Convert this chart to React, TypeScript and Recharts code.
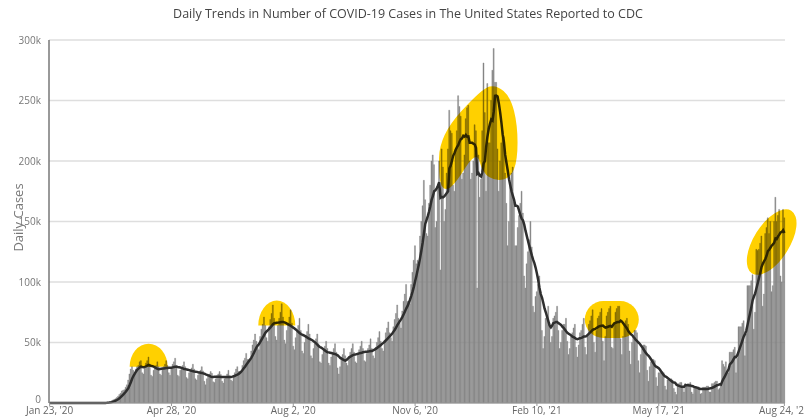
import { ComposedChart, Bar, Line, XAxis, YAxis, CartesianGrid, ReferenceDot } from 'recharts'

// daily reported cases, thousands. Jan 23 2020 (Thu) .. Dec 31 2020, one row per week (Sun..Sat)
const cases2020: number[] = [
  0, 0, 0,
  0, 0, 0, 0, 0, 0, 0,
  0, 0, 0, 0, 0, 0, 0,
  0, 0, 0, 0, 0, 0, 0,
  0, 0, 0, 0, 0, 0, 0,
  0, 0, 0, 0, 0, 0, 0,
  0.03, 0.04, 0.06, 0.08, 0.1, 0.15, 0.2,
  0.4, 0.6, 0.9, 1.2, 1.8, 2.5, 3,
  3.5, 4.5, 5.5, 7, 8, 10, 10.5,
  11, 13, 15, 19, 24, 28, 30,
  27, 25, 28, 30, 31, 34, 35,
  25, 24, 30, 33, 35, 38, 32,
  23, 22, 27, 29, 31, 34, 30,
  24, 23, 28, 30, 32, 35, 31,
  25, 23, 28, 32, 34, 37, 31,
  23, 22, 27, 29, 31, 34, 30,
  21, 20, 25, 27, 29, 32, 28,
  20, 19, 23, 26, 27, 30, 26.5,
  18, 15, 20, 23, 24, 26, 24.5,
  17.5, 17, 20, 22.5, 24, 26, 23.5,
  18, 16.5, 20, 22, 24, 27, 22.5,
  19, 18, 22, 25, 28, 30, 26,
  26, 25, 31, 35, 37, 41, 36,
  36, 35, 43, 48, 52, 57, 51,
  46, 44, 55, 61, 65, 71, 64,
  54, 51, 63, 69, 74, 81, 70,
  55, 52, 64, 70, 75, 82, 71,
  52, 49, 60, 66, 71, 77, 66,
  47, 44, 54, 60, 64, 70, 60,
  43, 41, 50, 56, 59, 65, 57,
  39, 37, 45, 49, 53, 57, 49,
  34, 33, 40, 44, 47, 51, 45,
  33, 31, 38, 42, 45, 49, 42,
  29, 24, 30, 38, 40, 45, 39,
  33, 31, 38, 42, 45, 49, 42,
  34, 33, 40, 44, 47, 51, 45,
  35, 34, 41, 45, 48, 53, 45,
  39, 37, 46, 50, 54, 59, 51,
  45, 43, 52, 58, 62, 67, 58,
  54, 51, 63, 69, 74, 81, 70,
  66, 62, 76, 84, 90, 98, 84,
  84, 82, 98, 108, 118, 130, 115,
  118, 115, 138, 150, 163, 184, 168,
  140, 138, 165, 180, 200, 205, 197,
  145, 150, 180, 200, 110, 210, 195,
  150, 160, 190, 210, 242, 225, 223,
  180, 175, 210, 225, 254, 245, 237,
  185, 190, 205, 235, 244, 246, 200,
  185, 190, 200, 230, 225, 95, 205,
  170, 185, 225, 281, 240,
]

// Jan 1 2021 (Fri) .. Aug 24 2021
const cases2021: number[] = [
  175, 264,
  215, 215, 250, 275, 293, 265, 265,
  210, 175, 200, 215, 225, 220, 190,
  165, 130, 150, 180, 190, 195, 166,
  130, 130, 145, 155, 165, 175, 157,
  105, 95, 115, 125, 135, 150, 129,
  80, 75, 88, 92, 98, 105, 92,
  60, 45, 55, 70, 72, 80, 66,
  50, 55, 70, 72, 75, 80, 60,
  45, 50, 60, 65, 65, 70, 51,
  40, 45, 55, 58, 62, 65, 46,
  38, 48, 58, 60, 65, 70, 46,
  40, 55, 65, 68, 72, 77, 50,
  42, 60, 70, 72, 75, 78, 51,
  35, 55, 72, 75, 78, 80, 46,
  45, 65, 75, 78, 80, 80, 53,
  40, 55, 65, 68, 70, 65, 43,
  32, 50, 55, 60, 60, 58, 35,
  25, 40, 45, 48, 48, 47, 27,
  18, 30, 34, 36, 36, 35, 21,
  14, 25, 25, 25, 26, 25, 14,
  11, 19, 19, 19, 20, 19, 12,
  9, 7, 16, 16, 17, 17, 12.5,
  9, 16, 15, 16, 16, 17, 9,
  7.5, 13, 13, 13, 13.5, 13, 7.5,
  8, 13, 13, 13, 14, 14, 9,
  9, 16, 16, 17, 18, 18, 11,
  12, 14, 35, 32, 30, 34, 25,
  25, 42, 42, 42, 44, 46, 25,
  37, 63, 63, 63, 66, 68, 39,
  57, 97, 97, 97, 101, 106, 61,
  75, 127, 126, 127, 132, 138, 80,
  90, 140, 145, 153, 140, 150, 92,
  97, 150, 170, 150, 155, 160, 105,
  100, 160, 153,
]

const xTicks = ["Jan 23, '20", "Apr 28, '20", "Aug 2, '20", "Nov 6, '20", "Feb 10, '21", "May 17, '21", "Aug 24, '21"]
const yTicks = [0, 50, 100, 150, 200, 250, 300]

const MONTHS = ['Jan', 'Feb', 'Mar', 'Apr', 'May', 'Jun', 'Jul', 'Aug', 'Sep', 'Oct', 'Nov', 'Dec']
const YELLOW = '#ffd000'
const BAR = '#858585'

const daily = [...cases2020, ...cases2021]
const data = daily.map((v, i) => {
  const d = new Date(2020, 0, 23 + i)
  const from = Math.max(0, i - 6)
  const win = daily.slice(from, i + 1)
  return {
    date: `${MONTHS[d.getMonth()]} ${d.getDate()}, '${String(d.getFullYear()).slice(2)}`,
    cases: v,
    avg: win.reduce((a, b) => a + b, 0) / win.length,
  }
})
const at = (i: number) => data[i].date

const blend = { mixBlendMode: 'multiply' as const }

const halfDisc = (rx: number, ry: number) => (p: any) => (
  <path d={`M${p.cx - rx},${p.cy} A${rx},${ry} 0 0 1 ${p.cx + rx},${p.cy} Z`} fill={YELLOW} style={blend} />
)

const pill = (w: number, h: number) => (p: any) => (
  <rect x={p.cx - w / 2} y={p.cy - h / 2} width={w} height={h} rx={h / 2} fill={YELLOW} style={blend} />
)

const tilted = (a: number, b: number, deg: number) => (p: any) => (
  <ellipse cx={p.cx} cy={p.cy} rx={a} ry={b} transform={`rotate(${deg} ${p.cx} ${p.cy})`} fill={YELLOW} style={blend} />
)

// outline of the winter-peak highlight, relative to its centre
const BLOB = [[-39, -3], [4, -50], [18, -53], [32, -41], [39, -13], [39, 22], [32, 40], [17, 43], [4, 35], [-2, 12], [-24, 47], [-34, 53], [-40, 42]]
const blob = (p: any) => {
  const pts = BLOB.map(([x, y]) => [p.cx + x, p.cy + y])
  const mid = (i: number) => {
    const a = pts[i % pts.length], b = pts[(i + 1) % pts.length]
    return [(a[0] + b[0]) / 2, (a[1] + b[1]) / 2]
  }
  let d = `M${mid(0)[0]},${mid(0)[1]}`
  for (let i = 1; i <= pts.length; i++) {
    const c = pts[i % pts.length]
    const m = mid(i)
    d += ` Q${c[0]},${c[1]} ${m[0]},${m[1]}`
  }
  return <path d={d + 'Z'} fill={YELLOW} style={blend} />
}

const font = '"Open Sans", "Liberation Sans", sans-serif'

// y tick: the zero label sits a little above the baseline so it clears the first date
const YTick = ({ x, y, payload }: any) => (
  <text x={x} y={payload.value === 0 ? y - 4 : y} dy="0.35em" textAnchor="end" fontSize={10} fill="#777" fontFamily={font}>
    {payload.value === 0 ? '0' : `${payload.value}k`}
  </text>
)

const YTitle = ({ viewBox }: any) => {
  const cx = viewBox.x + 18
  const cy = viewBox.y + viewBox.height / 2 - 4
  return (
    <text x={cx} y={cy} transform={`rotate(-90 ${cx} ${cy})`} textAnchor="middle" dominantBaseline="central" fontSize={13} fill="#777" fontFamily={font}>
      Daily Cases
    </text>
  )
}

export default function App() {
  return (
    <div style={{ position: 'relative', width: 804, height: 419, background: '#fff', fontFamily: font }}>
      <style>{'body{margin:0}'}</style>
      <div style={{ position: 'absolute', top: 5, left: 0, width: 816, textAlign: 'center', fontSize: 12.5, color: '#444' }}>
        Daily Trends in Number of COVID-19 Cases in The United States Reported to CDC
      </div>
      <ComposedChart width={804} height={419} data={data} margin={{ top: 40, right: 19, bottom: 0, left: 0 }} barCategoryGap="0%">
        <CartesianGrid vertical={false} stroke="#dedede" strokeWidth={1.5} />
        <XAxis
          dataKey="date"
          ticks={xTicks}
          interval={0}
          height={16}
          tickSize={3}
          tickMargin={1}
          stroke="#999"
          tick={{ fontSize: 10, fill: '#666', fontFamily: font }}
        />
        <YAxis
          domain={[0, 300]}
          ticks={yTicks}
          width={49}
          tickLine={false}
          tickMargin={2}
          stroke="#777"
          strokeWidth={1.5}
          tick={<YTick />}
          label={<YTitle />}
        />
        <Bar dataKey="cases" fill={BAR} stroke={BAR} strokeWidth={0.4} isAnimationActive={false} />
        <Line dataKey="avg" type="linear" stroke="#2e2e2e" strokeWidth={2.5} dot={false} activeDot={false} isAnimationActive={false} />
        <ReferenceDot x={at(78)} y={30} shape={halfDisc(19, 23)} />
        <ReferenceDot x={at(179)} y={64} shape={halfDisc(18.5, 25)} />
        <ReferenceDot x={at(338)} y={219} shape={blob} />
        <ReferenceDot x={at(443)} y={69} shape={pill(54, 37)} />
        <ReferenceDot x={at(569)} y={133} shape={tilted(37, 18, -58)} />
      </ComposedChart>
    </div>
  )
}
